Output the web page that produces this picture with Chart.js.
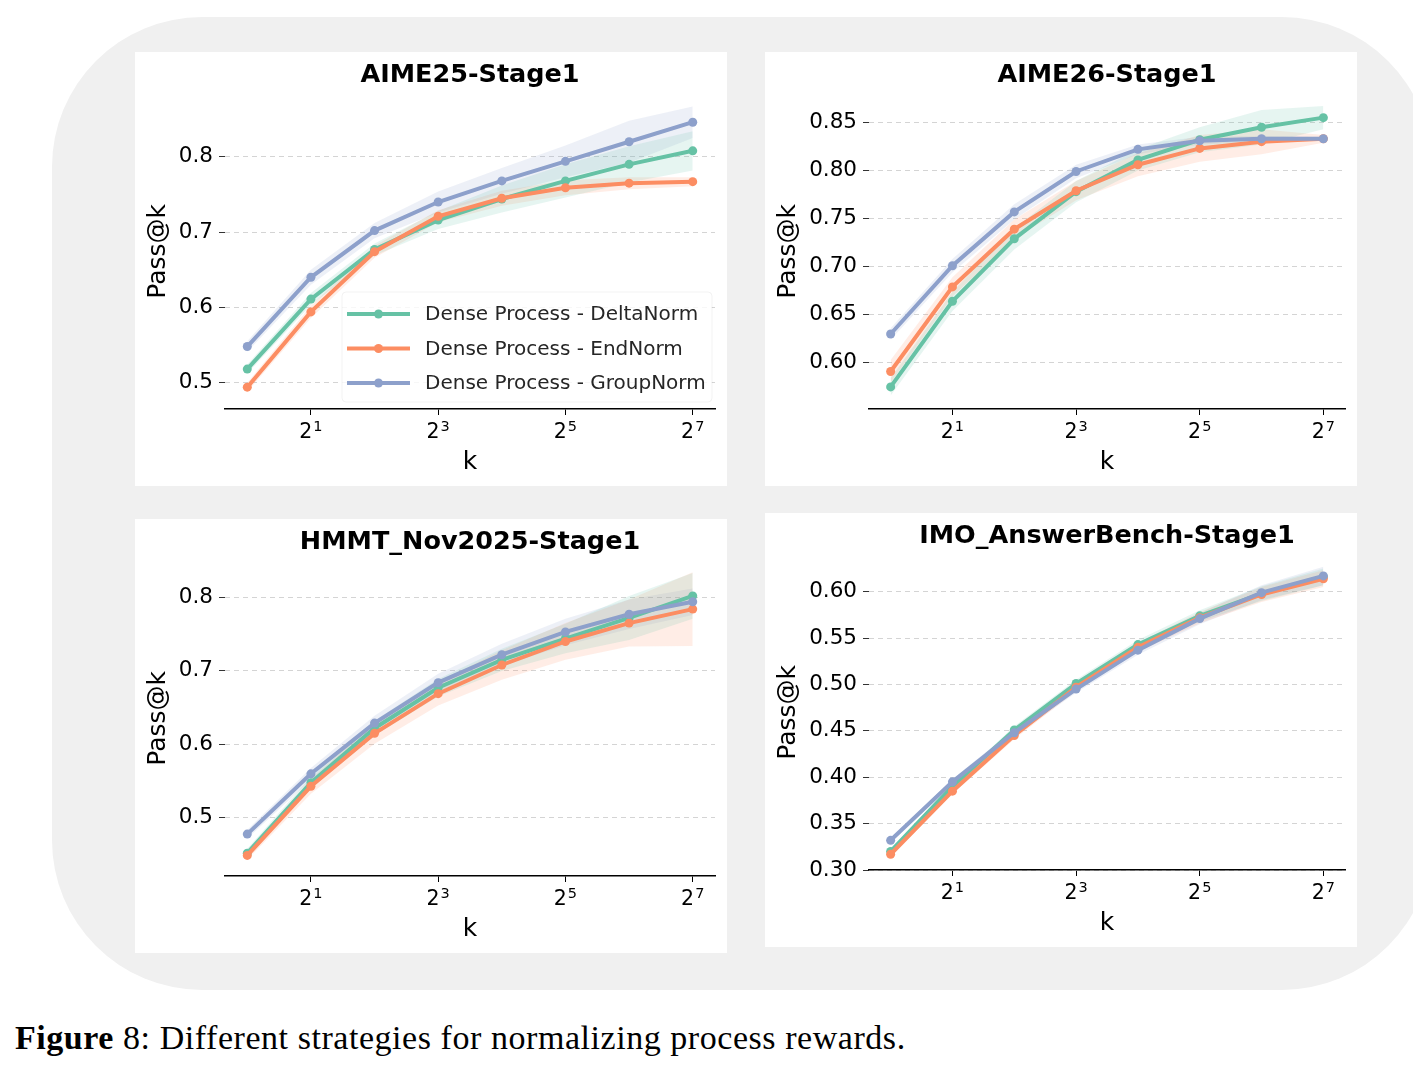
<!DOCTYPE html>
<html>
<head>
<meta charset="utf-8">
<script src="https://cdn.jsdelivr.net/npm/chart.js@4.4.1/dist/chart.umd.min.js"></script>
<style>
  body { margin: 0; width: 1413px; height: 1071px; background: #fff; position: relative; overflow: hidden; }
  #bg { position: absolute; left: 52px; top: 17px; width: 1380px; height: 973px; background: #f0f0f0; border-radius: 150px; }
  .panel { position: absolute; width: 592px; height: 434px; background: #fff; }
  #caption { position: absolute; left: 15px; top: 1019px; font-family: "Liberation Serif", "DejaVu Serif", serif; font-size: 34px; letter-spacing: 0.55px; color: #000; white-space: nowrap; }
</style>
</head>
<body>
<div id="bg"></div>
<div class="panel" style="left:135px; top:52px;"><canvas id="chart1"></canvas></div>
<div class="panel" style="left:765px; top:52px;"><canvas id="chart2"></canvas></div>
<div class="panel" style="left:135px; top:519px;"><canvas id="chart3"></canvas></div>
<div class="panel" style="left:765px; top:513px;"><canvas id="chart4"></canvas></div>
<div id="caption"><b>Figure</b> 8: Different strategies for normalizing process rewards.</div>

<script>
// k = 2^0 ... 2^7
const kValues = [1, 2, 4, 8, 16, 32, 64, 128];
const xTickExps = [1, 3, 5, 7];
const seriesNames = ["Dense Process - DeltaNorm", "Dense Process - EndNorm", "Dense Process - GroupNorm"];
const seriesColors = ["#66c2a5", "#fc8d62", "#8da0cb"];
const bandColors = ["rgba(102,194,165,0.16)", "rgba(252,141,98,0.16)", "rgba(141,160,203,0.16)"];

// AIME25-Stage1
const aime25Delta = [0.518, 0.611, 0.677, 0.716, 0.744, 0.768, 0.790, 0.808];
const aime25End = [0.494, 0.594, 0.674, 0.721, 0.745, 0.759, 0.765, 0.767];
const aime25Group = [0.548, 0.640, 0.702, 0.740, 0.768, 0.794, 0.820, 0.846];
const aime25DeltaBand = [0.006, 0.008, 0.008, 0.012, 0.018, 0.022, 0.024, 0.026];
const aime25EndBand = [0.006, 0.008, 0.008, 0.008, 0.010, 0.010, 0.008, 0.006];
const aime25GroupBand = [0.007, 0.010, 0.010, 0.014, 0.017, 0.021, 0.028, 0.021];
const aime25Ticks = [0.5, 0.6, 0.7, 0.8];

// AIME26-Stage1
const aime26Delta = [0.575, 0.664, 0.729, 0.778, 0.811, 0.832, 0.845, 0.855];
const aime26End = [0.591, 0.679, 0.739, 0.779, 0.806, 0.823, 0.830, 0.833];
const aime26Group = [0.630, 0.701, 0.757, 0.799, 0.822, 0.831, 0.833, 0.833];
const aime26DeltaBand = [0.009, 0.010, 0.011, 0.011, 0.011, 0.013, 0.018, 0.012];
const aime26EndBand = [0.012, 0.010, 0.010, 0.010, 0.012, 0.014, 0.013, 0.004];
const aime26GroupBand = [0.006, 0.007, 0.008, 0.007, 0.005, 0.004, 0.003, 0.002];
const aime26Ticks = [0.60, 0.65, 0.70, 0.75, 0.80, 0.85];

// HMMT_Nov2025-Stage1
const hmmtDelta = [0.452, 0.548, 0.622, 0.677, 0.715, 0.744, 0.772, 0.802];
const hmmtEnd = [0.449, 0.543, 0.615, 0.669, 0.708, 0.740, 0.765, 0.784];
const hmmtGroup = [0.478, 0.560, 0.629, 0.684, 0.722, 0.753, 0.777, 0.794];
const hmmtDeltaBand = [0.006, 0.008, 0.010, 0.012, 0.015, 0.020, 0.030, 0.031];
const hmmtEndBand = [0.006, 0.010, 0.014, 0.016, 0.020, 0.025, 0.032, 0.050];
const hmmtGroupBand = [0.006, 0.008, 0.010, 0.012, 0.015, 0.018, 0.020, 0.018];
const hmmtTicks = [0.5, 0.6, 0.7, 0.8];

// IMO_AnswerBench-Stage1
const imoDelta = [0.320, 0.390, 0.451, 0.501, 0.543, 0.574, 0.598, 0.616];
const imoEnd = [0.317, 0.385, 0.445, 0.497, 0.540, 0.572, 0.597, 0.614];
const imoGroup = [0.332, 0.395, 0.448, 0.495, 0.537, 0.571, 0.599, 0.617];
const imoDeltaBand = [0.002, 0.003, 0.004, 0.004, 0.005, 0.006, 0.008, 0.009];
const imoEndBand = [0.002, 0.003, 0.004, 0.004, 0.005, 0.006, 0.008, 0.009];
const imoGroupBand = [0.002, 0.003, 0.004, 0.004, 0.005, 0.006, 0.008, 0.010];
const imoTicks = [0.30, 0.35, 0.40, 0.45, 0.50, 0.55, 0.60];

Chart.defaults.font.family = "'DejaVu Sans', sans-serif";
Chart.defaults.color = "#000";

function toPoints(arr) {
  return kValues.map((k, i) => ({ x: Math.log2(k), y: arr[i] }));
}

// x-etiketter som 2^n med upphöjd exponent
const powLabels = {
  id: "powLabels",
  afterDraw(chart) {
    const scale = chart.scales.x;
    const ctx = chart.ctx;
    ctx.save();
    ctx.fillStyle = "#000";
    ctx.textBaseline = "alphabetic";
    ctx.textAlign = "left";
    scale.ticks.forEach((t) => {
      const px = scale.getPixelForValue(t.value);
      const base = "2";
      const exp = String(t.value);
      ctx.font = "20.5px 'DejaVu Sans'";
      const wb = ctx.measureText(base).width;
      ctx.font = "14.5px 'DejaVu Sans'";
      const we = ctx.measureText(exp).width;
      const x0 = px - (wb + we + 1) / 2;
      ctx.font = "20.5px 'DejaVu Sans'";
      ctx.fillText(base, x0, scale.top + 29);
      ctx.font = "14.5px 'DejaVu Sans'";
      ctx.fillText(exp, x0 + wb + 1, scale.top + 22);
    });
    ctx.restore();
  },
};

// legende inne i plotten (bara första panelen)
const insideLegend = {
  id: "insideLegend",
  afterDraw(chart, args, opts) {
    if (!opts.show) return;
    const ctx = chart.ctx;
    const ca = chart.chartArea;
    const w = 370, h = 110;
    const x0 = ca.right - 3 - w;
    const y0 = ca.bottom - 7 - h;
    ctx.save();
    ctx.fillStyle = "rgba(255,255,255,0.8)";
    ctx.strokeStyle = "rgba(0,0,0,0.05)";
    ctx.lineWidth = 1;
    ctx.beginPath();
    ctx.roundRect(x0, y0, w, h, 4);
    ctx.fill();
    ctx.stroke();
    ctx.font = "20px 'DejaVu Sans'";
    ctx.textBaseline = "middle";
    seriesNames.forEach((name, i) => {
      const cy = y0 + 22 + i * 34.5;
      ctx.strokeStyle = seriesColors[i];
      ctx.lineWidth = 4;
      ctx.beginPath();
      ctx.moveTo(x0 + 5, cy);
      ctx.lineTo(x0 + 68, cy);
      ctx.stroke();
      ctx.fillStyle = seriesColors[i];
      ctx.beginPath();
      ctx.arc(x0 + 36.5, cy, 4.5, 0, Math.PI * 2);
      ctx.fill();
      ctx.fillStyle = "#262626";
      ctx.fillText(name, x0 + 83, cy + 1);
    });
    ctx.restore();
  },
};

function makeChart(id, title, means, bands, yTicks, yMin, yMax, decimals, leftWidth, showLegend) {
  const datasets = [];
  // skuggade band först
  means.forEach((m, i) => {
    const lo = m.map((v, j) => v - bands[i][j]);
    const hi = m.map((v, j) => v + bands[i][j]);
    datasets.push({ data: toPoints(lo), borderWidth: 0, pointRadius: 0, fill: false, order: 10 });
    datasets.push({ data: toPoints(hi), borderWidth: 0, pointRadius: 0, fill: "-1", backgroundColor: bandColors[i], order: 10 });
  });
  // medelvärden
  means.forEach((m, i) => {
    datasets.push({
      label: seriesNames[i],
      data: toPoints(m),
      borderColor: seriesColors[i],
      backgroundColor: seriesColors[i],
      pointBackgroundColor: seriesColors[i],
      pointBorderWidth: 0,
      borderWidth: 4,
      pointRadius: 4.5,
      fill: false,
      order: 3 - i,
    });
  });

  return new Chart(document.getElementById(id), {
    type: "line",
    data: { datasets },
    plugins: [powLabels, insideLegend],
    options: {
      responsive: true,
      maintainAspectRatio: false,
      animation: false,
      events: [],
      layout: { padding: { top: 0, right: 12, bottom: 0, left: 0 } },
      plugins: {
        legend: { display: false },
        tooltip: { enabled: false },
        filler: { propagate: false, drawTime: "beforeDatasetsDraw" },
        insideLegend: { show: showLegend },
        title: {
          display: true,
          text: title,
          fullSize: false,
          color: "#000",
          font: { size: 25.5, weight: "bold" },
          padding: { top: 8, bottom: 3 },
        },
      },
      scales: {
        x: {
          type: "linear",
          min: -0.35,
          max: 7.35,
          afterBuildTicks: (axis) => { axis.ticks = xTickExps.map((v) => ({ value: v })); },
          afterFit: (s) => { s.height = 77; },
          ticks: { display: false, autoSkip: false },
          grid: { drawOnChartArea: false, drawTicks: true, tickLength: 6, tickColor: "#000", tickWidth: 1 },
          border: { display: true, color: "#000", width: 1.5 },
          title: { display: true, text: "k", color: "#000", font: { size: 25 }, padding: { top: 0, bottom: 9 } },
        },
        y: {
          min: yMin,
          max: yMax,
          afterBuildTicks: (axis) => { axis.ticks = yTicks.map((v) => ({ value: v })); },
          afterFit: (s) => { s.width = leftWidth; },
          ticks: { callback: (v) => v.toFixed(decimals), font: { size: 21.5 }, color: "#000", padding: 6 },
          grid: { color: "#d4d4d4", lineWidth: 1, drawTicks: true, tickLength: 6, tickColor: "#333", tickWidth: 1, tickBorderDash: [] },
          border: { display: false, dash: [5, 4] },
          title: { display: true, text: "Pass@k", color: "#000", font: { size: 25 }, padding: { top: 8, bottom: 0 } },
        },
      },
    },
  });
}

makeChart("chart1", "AIME25-Stage1",
  [aime25Delta, aime25End, aime25Group], [aime25DeltaBand, aime25EndBand, aime25GroupBand],
  aime25Ticks, 0.465, 0.884, 1, 90, true);

makeChart("chart2", "AIME26-Stage1",
  [aime26Delta, aime26End, aime26Group], [aime26DeltaBand, aime26EndBand, aime26GroupBand],
  aime26Ticks, 0.552, 0.880, 2, 104, false);

makeChart("chart3", "HMMT_Nov2025-Stage1",
  [hmmtDelta, hmmtEnd, hmmtGroup], [hmmtDeltaBand, hmmtEndBand, hmmtGroupBand],
  hmmtTicks, 0.421, 0.850, 1, 90, false);

makeChart("chart4", "IMO_AnswerBench-Stage1",
  [imoDelta, imoEnd, imoGroup], [imoDeltaBand, imoEndBand, imoGroupBand],
  imoTicks, 0.300, 0.640, 2, 104, false);
</script>
</body>
</html>
